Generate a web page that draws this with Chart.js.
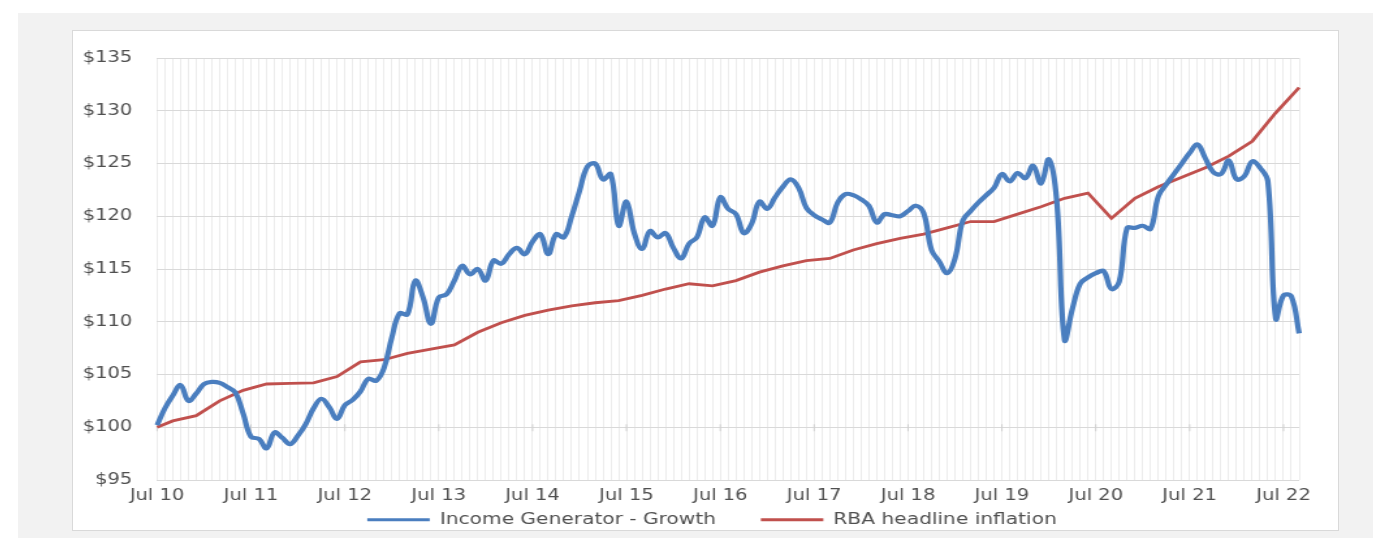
<!DOCTYPE html>
<html>
<head>
<meta charset="utf-8">
<script src="https://cdn.jsdelivr.net/npm/chart.js@4.4.1/dist/chart.umd.min.js"></script>
<style>
    html, body { margin: 0; padding: 0; background: #ffffff; }
    body { width: 1373px; height: 538px; position: relative; overflow: hidden; }
    #panel { position: absolute; left: 18px; top: 13px; width: 1355px; height: 525px; background: #f2f2f2; }
    #marco { position: absolute; left: 72px; top: 30px; width: 1265px; height: 499px; background: #ffffff; border: 1px solid #d9d9d9; }
    /* the original chart is stretched sideways, so the canvas is too */
    #contenedor { position: absolute; left: 72px; top: 30px; width: 974.6px; height: 508px; transform: scaleX(1.3); transform-origin: 0 0; }
</style>
</head>
<body>
<div id="panel"></div>
<div id="marco"></div>
<div id="contenedor"><canvas id="grafico"></canvas></div>
<script>
// Income Generator vs RBA inflation, $100 invested Jul 2010
const nombresMes = ['Jan', 'Feb', 'Mar', 'Apr', 'May', 'Jun', 'Jul', 'Aug', 'Sep', 'Oct', 'Nov', 'Dec'];
const mesEtiqueta = 'Jul';

// monthly categories Jul 10 .. Sep 22
const meses = [];
for (let i = 0; i < 147; i++) {
    const m = (6 + i) % 12;
    const anio = 10 + Math.floor((6 + i) / 12);
    meses.push(nombresMes[m] + ' ' + anio);
}

// Income Generator - Growth (monthly)
const valoresFondo = [
    100.2, 101.8, 103.0, 104.0, 102.5, 103.2, 104.1, 104.3, 104.2, 103.8,
    103.3, 101.3, 99.1, 98.9, 98.0, 99.5, 99.0, 98.4, 99.2, 100.3,
    101.8, 102.7, 101.9, 100.8, 102.1, 102.6, 103.4, 104.6, 104.4, 105.6,
    108.5, 110.8, 110.7, 113.9, 112.3, 109.8, 112.3, 112.6, 113.9, 115.3,
    114.5, 115.0, 113.9, 115.8, 115.5, 116.4, 117.0, 116.4, 117.6, 118.3,
    116.4, 118.3, 118.0, 120.0, 122.4, 124.7, 125.0, 123.5, 124.0, 119.1,
    121.4, 118.4, 116.9, 118.6, 118.0, 118.4, 117.0, 116.0, 117.4, 118.0,
    119.9, 119.1, 121.8, 120.7, 120.2, 118.4, 119.3, 121.4, 120.7, 121.8,
    122.8, 123.5, 122.7, 120.8, 120.1, 119.7, 119.4, 121.3, 122.1, 122.0,
    121.6, 121.0, 119.4, 120.2, 120.1, 120.0, 120.5, 121.0, 120.3, 116.8,
    115.7, 114.6, 116.0, 119.6, 120.5, 121.3, 122.0, 122.7, 124.0, 123.3,
    124.1, 123.6, 124.8, 123.1, 125.4, 121.5, 108.3, 111.2, 113.6, 114.2,
    114.6, 114.8, 113.1, 113.8, 118.9, 118.9, 119.1, 118.8, 121.9, 123.0,
    124.0, 125.0, 126.0, 126.8, 125.5, 124.2, 124.0, 125.3, 123.5, 123.8,
    125.2, 124.6, 123.3, 110.3, 112.5, 112.4, 108.9
];

// RBA headline inflation: start point plus quarter ends
const fechasInflacion = meses.filter((m, i) => i === 0 || i % 3 === 2);
const valoresInflacion = [
    100.0, 100.6, 101.1, 102.5, 103.5, 104.1, 104.15, 104.2, 104.8, 106.2,
    106.4, 107.0, 107.4, 107.8, 109.0, 109.9, 110.6, 111.1, 111.5, 111.8,
    112.0, 112.5, 113.1, 113.6, 113.4, 113.9, 114.7, 115.3, 115.8, 116.0,
    116.8, 117.4, 117.9, 118.3, 118.9, 119.5, 119.5, 120.2, 120.9, 121.7,
    122.2, 119.8, 121.7, 122.8, 123.7, 124.6, 125.7, 127.1, 129.8, 132.2
];

const colorTexto = '#505050';
const fuente = { family: 'DejaVu Sans', size: 15 };

// small tick marks on the $100 axis line at each July
const marcasEje = {
    id: 'marcasEje',
    beforeDatasetsDraw(chart) {
        const ctx = chart.ctx;
        const x = chart.scales.x;
        const y = chart.scales.y;
        const y0 = y.getPixelForValue(100);
        ctx.save();
        ctx.strokeStyle = '#d0d0d0';
        ctx.lineWidth = 1;
        ctx.beginPath();
        meses.forEach((m, i) => {
            if (m.startsWith(mesEtiqueta)) {
                const px = x.getPixelForValue(i);
                ctx.moveTo(px, y0 - 3);
                ctx.lineTo(px, y0 + 4);
            }
        });
        ctx.stroke();
        ctx.restore();
    }
};

const ctx = document.getElementById('grafico').getContext('2d');
new Chart(ctx, {
    type: 'line',
    data: {
        labels: meses,
        datasets: [
            {
                label: 'Income Generator - Growth',
                data: valoresFondo,
                borderColor: '#4a7ebf',
                backgroundColor: '#4a7ebf',
                borderWidth: 4.2,
                pointRadius: 0,
                tension: 0.4
            },
            {
                label: 'RBA headline inflation',
                data: fechasInflacion.map((f, i) => ({ x: f, y: valoresInflacion[i] })),
                borderColor: '#c0504d',
                backgroundColor: '#c0504d',
                borderWidth: 2.8,
                pointRadius: 0,
                tension: 0
            }
        ]
    },
    options: {
        responsive: true,
        maintainAspectRatio: false,
        animation: false,
        layout: { padding: { left: 9, top: 27, right: 0, bottom: 0.5 } },
        scales: {
            x: {
                offset: false,
                grid: { color: '#ececec', drawTicks: false },
                border: { display: false },
                ticks: {
                    autoSkip: false,
                    maxRotation: 0,
                    padding: 7,
                    color: colorTexto,
                    font: fuente,
                    callback: function(v, i) {
                        return meses[i].startsWith(mesEtiqueta) ? meses[i] : '';
                    }
                }
            },
            y: {
                min: 95,
                max: 135,
                grid: { color: '#d9d9d9', drawTicks: false },
                border: { display: false },
                afterFit: function(scale) { scale.width = 56.4; },
                ticks: {
                    stepSize: 5,
                    padding: 19,
                    color: colorTexto,
                    font: fuente,
                    callback: v => '$' + v
                }
            },
            // empty space on the right of the plot
            derecha: {
                position: 'right',
                grid: { display: false },
                border: { display: false },
                ticks: { display: false },
                afterFit: function(scale) { scale.width = 31.6; }
            }
        },
        plugins: {
            tooltip: { enabled: false },
            legend: {
                position: 'bottom',
                labels: {
                    usePointStyle: true,
                    pointStyle: 'line',
                    pointStyleWidth: 48,
                    padding: 0,
                    color: colorTexto,
                    font: { family: 'DejaVu Sans', size: 15.5 },
                    generateLabels: function(chart) {
                        const items = Chart.defaults.plugins.legend.labels.generateLabels(chart);
                        items.forEach(it => { it.lineWidth = 3; });
                        // gap between the two entries
                        items[0].text += '       ';
                        return items;
                    }
                }
            }
        }
    },
    plugins: [marcasEje]
});
</script>
</body>
</html>
